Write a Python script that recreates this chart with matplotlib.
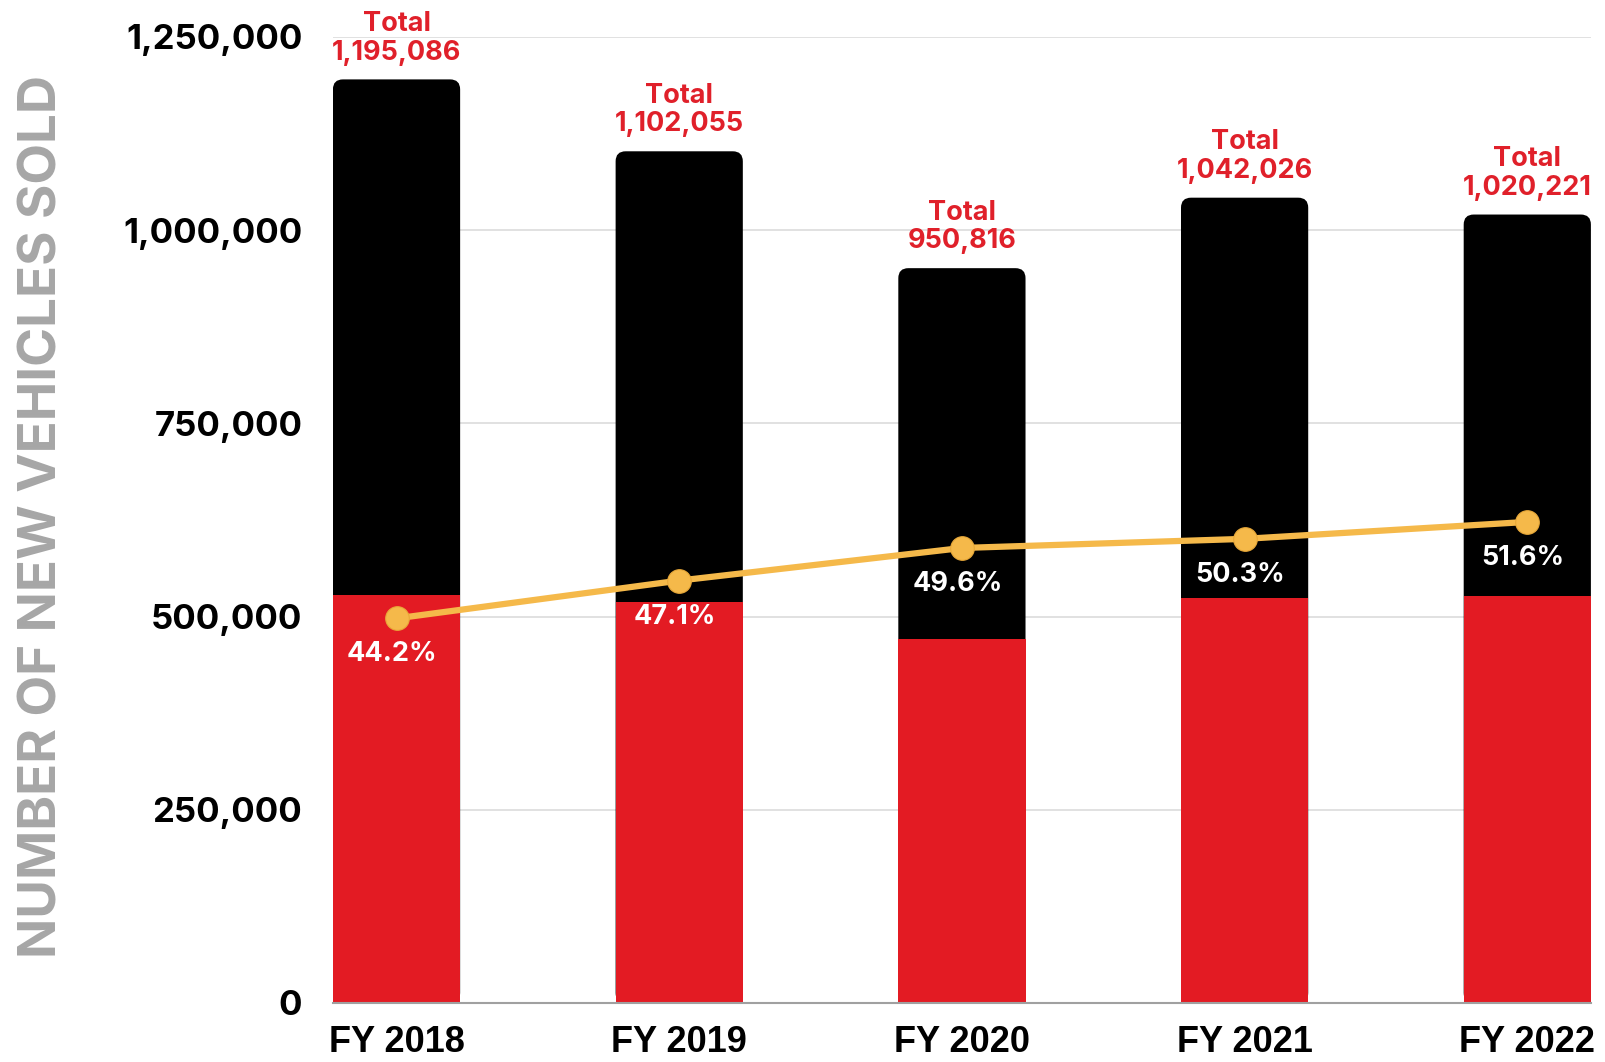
import matplotlib
matplotlib.use("Agg")
import matplotlib.pyplot as plt
from matplotlib.patches import FancyBboxPatch
from matplotlib.ticker import FuncFormatter

plt.rcParams["font.family"] = ["Inter", "DejaVu Sans"]

YEARS = ["FY 2018", "FY 2019", "FY 2020", "FY 2021", "FY 2022"]
TOTALS = [1195086, 1102055, 950816, 1042026, 1020221]
RED_PART = [528200, 519100, 471600, 524100, 526400]
SHARE = [44.2, 47.1, 49.6, 50.3, 51.6]

RED = "#E31B23"
TXT_RED = "#E0202A"
GOLD = "#F5B94A"
GREY = "#A6A6A6"
W = 0.45

fig = plt.figure(figsize=(16.06, 10.62), dpi=100)
ax = fig.add_axes([0.2073, 0.0556, 0.7833, 0.9096])
xs = list(range(len(YEARS)))
ax.set_xlim(-W / 2, len(YEARS) - 1 + W / 2)
ax.set_ylim(0, 1250000)

# black bars with rounded tops (drawn full height, red stacked over the bottom)
bars = ax.bar(xs, TOTALS, width=W, color="black", zorder=2)
fig.canvas.draw()
px_x = (ax.get_xlim()[1] - ax.get_xlim()[0]) / ax.bbox.width
px_y = (ax.get_ylim()[1] - ax.get_ylim()[0]) / ax.bbox.height
r = 10 * px_x
for b in bars:
    x0, y0 = b.get_xy()
    ax.add_patch(FancyBboxPatch((x0, y0), b.get_width(), b.get_height(),
                                boxstyle="round,pad=0,rounding_size=%f" % r,
                                mutation_aspect=px_y / px_x,
                                fc="black", ec="none", zorder=2))
    b.remove()
ax.bar(xs, RED_PART, width=W, color=RED, zorder=3)

for x, t in zip(xs, TOTALS):
    ax.annotate("Total\n{:,}".format(t), xy=(x, t), xytext=(0, 10),
                textcoords="offset points", ha="center", va="bottom",
                fontsize=19.5, fontweight="bold", color=TXT_RED,
                linespacing=1.12, annotation_clip=False, zorder=6)

ax.set_yticks(range(0, 1250001, 250000))
ax.yaxis.set_major_formatter(FuncFormatter(lambda v, p: "{:,}".format(int(v))))
ax.grid(axis="y", color="#D9D9D9", lw=1.1, zorder=0)
ax.set_axisbelow(True)
for s in ["top", "right", "left"]:
    ax.spines[s].set_visible(False)
ax.spines["bottom"].set_color("#A0A0A0")
ax.spines["bottom"].set_linewidth(1.5)
ax.spines["bottom"].set_zorder(4)
ax.tick_params(axis="y", length=0, pad=22, labelsize=25)
ax.tick_params(axis="x", length=0, pad=16)
for lab in ax.get_yticklabels():
    lab.set_fontweight("bold")
ax.set_xticks(xs)
ax.set_xticklabels(YEARS, fontsize=26, fontweight="bold",
                   family=["Liberation Sans", "DejaVu Sans"])

fig.text(0.0268, 0.5132, "NUMBER OF NEW VEHICLES SOLD", rotation=90,
         ha="center", va="center", fontsize=38, fontweight="bold", color=GREY)

# share line on its own scale
ax2 = ax.twinx()
ax2.set_ylim(14.7, 88.8)
ax2.axis("off")
ax2.plot(xs, SHARE, color=GOLD, lw=4.5, marker="o", markersize=17,
         markerfacecolor=GOLD, markeredgecolor="#E8A838", markeredgewidth=0.8,
         zorder=5)
for x, s in zip(xs, SHARE):
    ax2.annotate("%.1f%%" % s, xy=(x, s), xytext=(-3, -26),
                 textcoords="offset points", ha="center", va="center",
                 fontsize=19.5, fontweight="bold", color="white", zorder=6)

fig.savefig("out.png", facecolor="white")
